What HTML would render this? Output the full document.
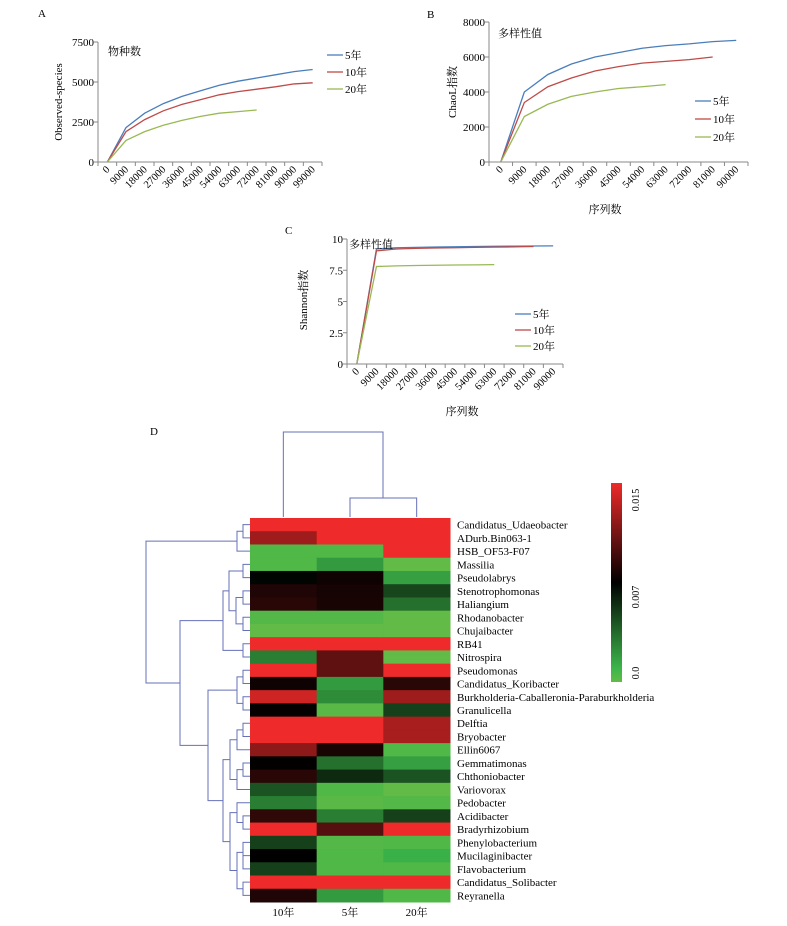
<!DOCTYPE html>
<html><head><meta charset="utf-8"><style>
body{margin:0;background:#fff}
svg{display:block;font-family:"Liberation Serif","Noto Serif CJK SC",serif}
</style></head><body>
<svg id="s" width="787" height="926" viewBox="0 0 787 926" xmlns="http://www.w3.org/2000/svg">
<defs><linearGradient id="cb" x1="0" y1="1" x2="0" y2="0">
<stop offset="0" stop-color="#62bb46"/><stop offset="0.07" stop-color="#3cb54a"/><stop offset="0.5" stop-color="#000"/><stop offset="1" stop-color="#ee2a2a"/></linearGradient></defs>
</svg>
<script>
// ---- data ----
const catsA=[0,9000,18000,27000,36000,45000,54000,63000,72000,81000,90000,99000];
const a5=[0,2150,3050,3650,4100,4450,4800,5050,5250,5450,5650,5780];
const a10=[0,1900,2650,3200,3600,3900,4200,4400,4550,4700,4880,4950];
const a20=[0,1350,1900,2300,2600,2850,3050,3150,3250];
const catsB=[0,9000,18000,27000,36000,45000,54000,63000,72000,81000,90000];
const b5=[0,4000,5000,5600,6000,6250,6500,6650,6750,6880,6950];
const b10=[0,3400,4300,4800,5200,5450,5650,5750,5850,6000];
const b20=[0,2600,3300,3750,4000,4200,4300,4420];
const c5=[0,9.2,9.3,9.33,9.36,9.38,9.4,9.42,9.43,9.44,9.45];
const c10=[0,9.05,9.2,9.25,9.28,9.3,9.33,9.35,9.37,9.4];
const c20=[0,7.8,7.85,7.88,7.9,7.92,7.93,7.95];
const rows=["Candidatus_Udaeobacter","ADurb.Bin063-1","HSB_OF53-F07","Massilia","Pseudolabrys","Stenotrophomonas","Haliangium","Rhodanobacter","Chujaibacter","RB41","Nitrospira","Pseudomonas","Candidatus_Koribacter","Burkholderia-Caballeronia-Paraburkholderia","Granulicella","Delftia","Bryobacter","Ellin6067","Gemmatimonas","Chthoniobacter","Variovorax","Pedobacter","Acidibacter","Bradyrhizobium","Phenylobacterium","Mucilaginibacter","Flavobacterium","Candidatus_Solibacter","Reyranella"];
const cols=["10年","5年","20年"];
const v10=[.016,.0125,.0005,.0005,.0073,.0085,.0088,.0004,0,.016,.003,.016,.008,.014,.0077,.016,.016,.012,.0076,.0088,.0045,.003,.009,.016,.0052,.0075,.0052,.016,.0085];
const v5=[.016,.016,.0005,.002,.008,.0082,.0083,.0004,0,.016,.0105,.0105,.002,.0025,.0002,.016,.016,.0083,.0035,.006,.0005,.0002,.003,.0102,.0004,.0005,.0005,.016,.002];
const v20=[.016,.016,.016,0,.0018,.005,.0035,0,0,.016,0,.016,.0088,.0125,.0052,.0128,.0128,.0005,.0018,.0045,0,.0004,.0052,.016,.0005,.0012,.0005,.016,.0005];

const S=document.getElementById('s');
function el(t,a,txt){const e=document.createElementNS('http://www.w3.org/2000/svg',t);for(const k in a)e.setAttribute(k,a[k]);if(txt!==undefined)e.textContent=txt;S.appendChild(e);return e;}
const COL={"5":"#4a7ebb","10":"#be4b48","20":"#98b954"};

function chart(o){
  const {x0,x1,yTop,yBot,ymax,ticks,cats,series,name}=o;
  const w=(x1-x0)/cats.length;
  const X=i=>x0+w*(i+0.5), Y=v=>yBot-v/ymax*(yBot-yTop);
  let e=el('line',{x1:x0,y1:yTop,x2:x0,y2:yBot,stroke:'#888'});
  
  e=el('line',{x1:x0,y1:yBot,x2:x1,y2:yBot,stroke:'#888'});
  
  ticks.forEach(t=>{el('line',{x1:x0-4,y1:Y(t),x2:x0,y2:Y(t),stroke:'#888'});
    e=el('text',{x:x0-4,y:Y(t)+4,'text-anchor':'end','font-size':11},String(t));
    });
  for(let i=0;i<=cats.length;i++)el('line',{x1:x0+w*i,y1:yBot,x2:x0+w*i,y2:yBot+4,stroke:'#888'});
  cats.forEach((c,i)=>{e=el('text',{x:X(i)+3,y:yBot+8,'text-anchor':'end','font-size':10.5,transform:`rotate(-45 ${X(i)+3} ${yBot+8})`},String(c));
    });
  series.forEach(([k,arr])=>{e=el('polyline',{points:arr.map((v,i)=>X(i)+','+Y(v)).join(' '),fill:'none',stroke:COL[k],'stroke-width':1.3});
    });
}
function legend(x,ys,name){[["5","5年"],["10","10年"],["20","20年"]].forEach(([k,t],i)=>{
  el('line',{x1:x,y1:ys[i],x2:x+16,y2:ys[i],stroke:COL[k],'stroke-width':1.3});
  const e=el('text',{x:x+18,y:ys[i]+4,'font-size':11},t);
  });}
function txt(x,y,t,fs,nm,extra){const e=el('text',Object.assign({x:x,y:y,'font-size':fs},extra||{}),t);
  return e;}

// A
txt(38,17,'A',11,'panel-a-label');
chart({x0:98,x1:322,yTop:42,yBot:162,ymax:7500,ticks:[0,2500,5000,7500],cats:catsA,series:[["5",a5],["10",a10],["20",a20]],name:'panel-a'});
txt(108,55,'物种数',11,'panel-a-title');
txt(62,102,'Observed-species',11,'panel-a-y-title',{'text-anchor':'middle',transform:'rotate(-90 62 102)'});
legend(327,[55,72,89],'panel-a');
// B
txt(427,18,'B',11,'panel-b-label');
chart({x0:489,x1:748,yTop:22,yBot:162,ymax:8000,ticks:[0,2000,4000,6000,8000],cats:catsB,series:[["5",b5],["10",b10],["20",b20]],name:'panel-b'});
txt(498,37,'多样性值',11,'panel-b-title');
txt(456,92,'ChaoL指数',11,'panel-b-y-title',{'text-anchor':'middle',transform:'rotate(-90 456 92)'});
txt(605,213,'序列数',11,'panel-b-x-title',{'text-anchor':'middle'});
legend(695,[101,119,137],'panel-b');
// C
txt(285,234,'C',11,'panel-c-label');
chart({x0:347,x1:563,yTop:239,yBot:364,ymax:10,ticks:[0,2.5,5,7.5,10],cats:catsB,series:[["5",c5],["10",c10],["20",c20]],name:'panel-c'});
txt(349,248,'多样性值',11,'panel-c-title');
txt(307,300,'Shannon指数',11,'panel-c-y-title',{'text-anchor':'middle',transform:'rotate(-90 307 300)'});
txt(462,415,'序列数',11,'panel-c-x-title',{'text-anchor':'middle'});
legend(515,[314,330,346],'panel-c');

// D heatmap
txt(150,435,'D',11,'panel-d-label');
const hx=250,hw=200/3,hy=518,rh=384/rows.length;
function color(v){const t=Math.min(v,.015)/.015;
  if(t<0.07){const f=t/0.07;return `rgb(${98+(60-98)*f|0},${187+(181-187)*f|0},${70+(74-70)*f|0})`;}
  if(t<0.5){const f=1-(t-0.07)/0.43;return `rgb(${60*f|0},${181*f|0},${74*f|0})`;}
  const f=(t-0.5)/0.5;return `rgb(${238*f|0},${42*f|0},${42*f|0})`;}
[v10,v5,v20].forEach((arr,c)=>arr.forEach((v,r)=>{
  const e=el('rect',{x:hx+c*hw,y:hy+r*rh,width:hw+0.5,height:rh+0.5,fill:color(v)});
  }));
rows.forEach((n,r)=>txt(457,hy+(r+0.5)*rh+4,n,11,'row-label'));
cols.forEach((n,c)=>txt(hx+(c+0.5)*hw,916,n,11,'column-label',{'text-anchor':'middle'}));
// colorbar
let cbe=el('rect',{x:611,y:483,width:11,height:199,fill:'url(#cb)'});

[['0.015',500],['0.007',597],['0.0',673]].forEach(([t,y])=>txt(639,y,t,10,'colorbar-label',{'text-anchor':'middle',transform:`rotate(-90 639 ${y})`}));

// dendrograms
const RC=r=>hy+(r+0.5)*rh;
function link(pts){const e=el('polyline',{points:pts.map(p=>p.join(',')).join(' '),fill:'none',stroke:'#6670b8','stroke-width':1});
  }
const CX=c=>hx+(c+0.5)*hw;
link([[CX(1),517],[CX(1),498],[CX(2),498],[CX(2),517]]);
link([[CX(0),517],[CX(0),432],[383,432],[383,498]]);
function node(x,a,b){return {x,a,b};}
function pos(n){return typeof n==='number'?[hx,RC(n)]:[n.x,n.y];}
function draw(n){if(typeof n==='number')return;draw(n.a);draw(n.b);
  const pa=pos(n.a),pb=pos(n.b);n.y=(pa[1]+pb[1])/2;
  link([[pa[0],pa[1]],[n.x,pa[1]],[n.x,pb[1]],[pb[0],pb[1]]]);}
const L=243;
const top3=node(237,node(L,0,1),2);
const mid=node(223,node(229,node(L,3,4),node(236,node(L,5,6),node(L,7,8))),node(L,9,10));
const g1=node(237,node(L,11,12),node(L,13,14));
const gA=node(230,node(237,node(L,15,16),17),node(237,node(L,18,19),20));
const gB=node(230,node(237,21,node(L,22,23)),node(237,node(L,24,node(L,25,26)),node(L,27,28)));
const low=node(208,g1,node(223,gA,gB));
const root=node(146,top3,node(180,mid,low));
draw(root);
</script>
</body></html>
